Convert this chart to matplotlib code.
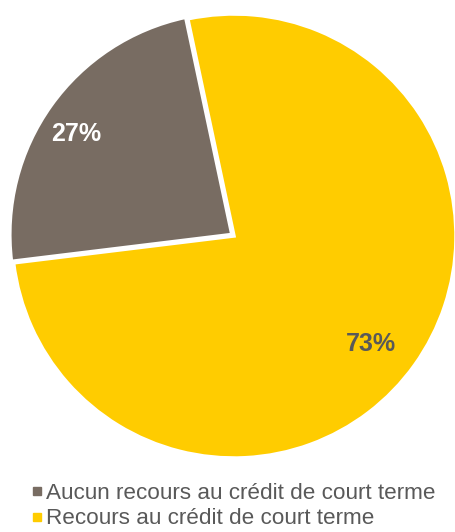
import numpy as np
import matplotlib.pyplot as plt
from matplotlib.lines import Line2D

plt.rcParams['font.family'] = ['Liberation Sans', 'DejaVu Sans']

categories = ["Aucun recours au crédit de court terme",
              "Recours au crédit de court terme"]
shares = [23.6, 76.4]          # slice sizes as drawn
pct_labels = ["27%", "73%"]    # labels printed on the slices
colors = ["#786c62", "#ffcc00"]
label_colors = ["white", "#595959"]
label_dist = [0.85, 0.78]
label_shift = [2, -2]          # degrees, nudge off the slice middle

W, H = 456, 532
fig = plt.figure(figsize=(W / 100, H / 100), dpi=100)
cx, cy, r = 234, 236, 222
ax = fig.add_axes([(cx - r) / W, (H - cy - r) / H, 2 * r / W, 2 * r / H])

wedges, _ = ax.pie(shares, colors=colors, startangle=102, counterclock=True,
                   radius=1, explode=[0.012, 0],
                   wedgeprops=dict(edgecolor="white", linewidth=2.5))
ax.set_xlim(-1, 1)
ax.set_ylim(-1, 1)
ax.set_aspect("equal")
ax.axis("off")

for w, txt, col, d, s in zip(wedges, pct_labels, label_colors, label_dist, label_shift):
    mid = np.deg2rad((w.theta1 + w.theta2) / 2 + s)
    ax.text(d * np.cos(mid), d * np.sin(mid), txt, ha="center", va="center_baseline",
            fontsize=18, fontweight="bold", color=col)

handles = [Line2D([], [], marker="s", linestyle="none", markersize=6,
                  markerfacecolor=c, markeredgecolor=c) for c in colors]
fig.legend(handles, categories, loc="upper left", bbox_to_anchor=(22 / W, 1 - 474 / H),
           frameon=False, fontsize=16.2, handlelength=0.5, handletextpad=0.15,
           labelspacing=0.2, labelcolor="#595959", borderaxespad=0)

fig.savefig("out.png", dpi=100)
